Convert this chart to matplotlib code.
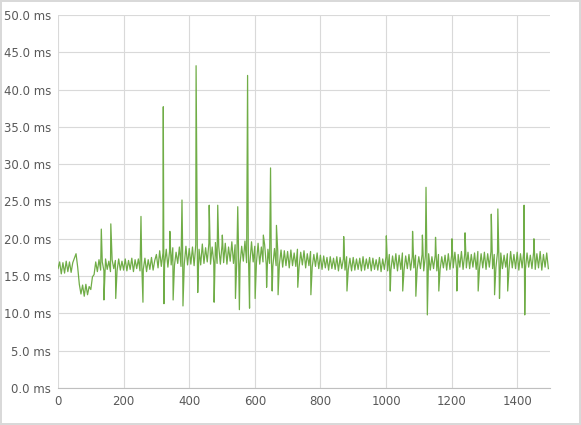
import numpy as np
import matplotlib.pyplot as plt

# base trace, one reading every 5 samples
base = [
    16.0,16.9,15.3,16.8,15.4,17.0,15.6,16.9,15.5,16.8,17.4,18.0,16.2,13.9,12.6,13.8,12.3,13.9,12.5,13.6,
    13.2,14.9,15.2,16.9,15.6,17.2,15.8,16.9,15.7,17.3,15.9,17.0,15.6,17.2,16.0,17.1,15.7,17.3,15.8,17.0,
    15.8,17.3,15.7,17.1,15.9,17.4,15.6,17.2,16.0,17.3,15.7,17.1,15.9,17.4,15.6,17.2,15.9,17.5,15.8,17.1,
    17.9,16.1,18.4,16.3,18.1,16.6,18.6,16.2,18.3,16.5,18.8,16.4,18.2,16.7,18.9,16.3,18.4,16.6,19.0,16.5,
    18.7,16.6,18.9,16.4,19.2,16.8,18.6,16.5,19.3,16.7,18.8,16.9,19.4,16.6,18.9,16.8,19.5,16.7,19.0,16.6,
    19.1,16.8,19.4,16.6,18.9,17.0,19.6,16.7,19.2,16.9,19.5,16.6,19.0,17.0,19.7,16.8,19.3,16.7,19.6,16.9,
    19.0,16.8,19.4,16.6,18.9,16.9,19.2,16.5,18.6,16.7,18.5,16.3,18.7,16.4,18.3,16.6,18.5,16.2,18.4,16.4,
    18.3,16.1,18.5,16.4,18.1,16.3,18.6,16.2,18.2,16.5,18.4,16.1,18.0,16.4,18.3,16.2,17.9,16.3,18.1,16.0,
    17.8,15.9,17.7,16.1,17.5,15.8,17.6,16.0,17.4,15.9,17.6,15.7,17.5,16.0,17.3,15.8,17.6,15.9,17.4,15.7,
    17.5,15.8,17.3,15.9,17.4,15.7,17.6,15.8,17.3,16.0,17.5,15.7,17.4,15.9,17.2,15.8,17.5,15.6,17.3,15.9,
    17.6,15.7,17.9,15.8,17.7,16.0,18.0,15.7,17.8,15.9,18.1,15.8,17.7,16.0,17.9,15.8,17.6,16.1,17.8,15.9,
    17.6,16.0,17.9,15.7,17.7,15.9,18.0,15.8,17.6,16.0,17.8,15.7,17.9,15.9,17.6,16.1,17.8,15.8,18.0,15.9,
    17.8,16.1,18.2,16.0,17.9,16.2,18.3,15.9,18.0,16.1,18.2,16.0,17.9,16.2,18.1,15.9,18.3,16.0,18.0,16.1,
    18.2,15.9,18.0,16.2,18.3,16.0,17.9,16.1,18.2,15.8,18.1,16.0,17.8,16.2,18.0,15.9,18.3,16.1,17.9,16.0,
    18.2,15.8,18.0,16.1,18.3,15.9,18.1,16.2,17.8,16.0,18.2,15.9,18.0,16.1,18.3,15.8,17.9,16.2,18.1,16.0,
]
base_x = list(range(0, 1500, 5))

# spikes (sample, ms)
spike_x = [132, 140, 161, 176, 253, 259, 321, 323, 341, 351, 378, 381, 421, 426, 461, 476, 487,
           501, 541, 548, 553, 578, 584, 601, 626, 636, 648, 653, 666, 671, 731, 771, 871, 881,
           1001, 1013, 1051, 1081, 1091, 1111, 1122, 1126, 1151, 1161, 1201, 1216, 1241, 1281,
           1321, 1331, 1341, 1346, 1371, 1421, 1423, 1451]
spike_y = [21.3, 11.8, 22.0, 12.0, 23.0, 11.5, 37.7, 11.3, 21.0, 11.8, 25.2, 11.0, 43.2, 12.8, 24.5,
           11.5, 24.5, 20.5, 12.0, 24.3, 10.5, 41.9, 10.7, 12.0, 20.5, 13.5, 29.5, 13.0, 21.8, 12.5,
           13.5, 12.5, 20.3, 13.0, 20.4, 13.0, 13.0, 21.0, 12.3, 20.5, 26.9, 9.8, 20.2, 13.0, 20.0,
           13.0, 20.8, 13.0, 23.3, 12.5, 24.0, 12.0, 13.0, 24.5, 9.8, 20.0]

x = np.array(base_x + spike_x)
y = np.array(base + spike_y)
order = np.argsort(x, kind="stable")
x, y = x[order], y[order]

fig = plt.figure(figsize=(5.81, 4.25), dpi=100)
fig.patch.set_edgecolor("#d9d9d9")
fig.patch.set_linewidth(1.5)
ax = fig.add_axes([58/581, 37/425, 492/581, 373/425])
ax.plot(x, y, color="#70ad47", linewidth=0.9)

ax.set_xlim(0, 1500)
ax.set_ylim(0, 50)
ax.set_xticks(range(0, 1500, 200))
ax.set_yticks(np.arange(0, 50.1, 5))
ax.set_yticklabels([f"{v:.1f} ms" for v in np.arange(0, 50.1, 5)])
ax.grid(True, color="#d9d9d9", linewidth=0.8)
ax.set_axisbelow(True)
for s in ax.spines.values():
    s.set_visible(False)
ax.spines["bottom"].set_visible(True)
ax.spines["bottom"].set_color("#bfbfbf")
ax.tick_params(length=0, labelsize=8.5, colors="#595959", pad=5)

fig.savefig("out.png", dpi=100)
